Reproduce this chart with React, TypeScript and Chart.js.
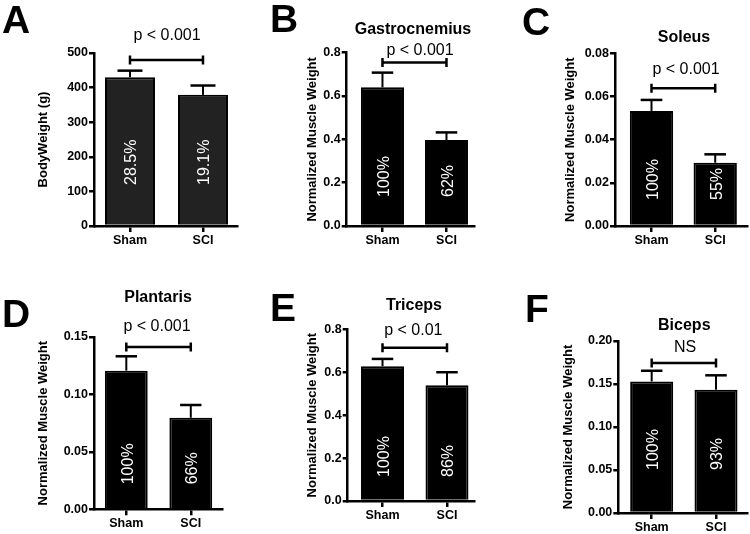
import React, { useEffect, useRef } from 'react';
import { Chart, registerables } from 'chart.js';
Chart.register(...registerables);

const FONT = '"Liberation Sans", Arial, Helvetica, sans-serif';

const categories = ['Sham', 'SCI'];

const bodyWeightMeans = [430, 379];
const bodyWeightSEM = [19, 27];
const bodyWeightPct = ['28.5%', '19.1%'];
const bodyWeightTicks = [0, 100, 200, 300, 400, 500];
const bodyWeightTickLabels = ['0', '100', '200', '300', '400', '500'];

const gastrocMeans = [0.64, 0.397];
const gastrocSEM = [0.068, 0.035];
const gastrocPct = ['100%', '62%'];
const gastrocTicks = [0, 0.2, 0.4, 0.6, 0.8];
const gastrocTickLabels = ['0.0', '0.2', '0.4', '0.6', '0.8'];

const soleusMeans = [0.0533, 0.0293];
const soleusSEM = [0.0051, 0.0039];
const soleusPct = ['100%', '55%'];
const soleusTicks = [0, 0.02, 0.04, 0.06, 0.08];
const soleusTickLabels = ['0.00', '0.02', '0.04', '0.06', '0.08'];

const plantarisMeans = [0.1207, 0.0797];
const plantarisSEM = [0.0125, 0.0111];
const plantarisPct = ['100%', '66%'];
const plantarisTicks = [0, 0.05, 0.1, 0.15];
const plantarisTickLabels = ['0.00', '0.05', '0.10', '0.15'];

const tricepsMeans = [0.628, 0.539];
const tricepsSEM = [0.034, 0.061];
const tricepsPct = ['100%', '86%'];
const tricepsTicks = [0, 0.2, 0.4, 0.6, 0.8];
const tricepsTickLabels = ['0.0', '0.2', '0.4', '0.6', '0.8'];

const bicepsMeans = [0.153, 0.1434];
const bicepsSEM = [0.0124, 0.0167];
const bicepsPct = ['100%', '93%'];
const bicepsTicks = [0, 0.05, 0.1, 0.15, 0.2];
const bicepsTickLabels = ['0.00', '0.05', '0.10', '0.15', '0.20'];

const sigLevels = [480, 0.755, 0.0638, 0.1413, 0.7145, 0.1744];
const sigTexts = ['p < 0.001', 'p < 0.001', 'p < 0.001', 'p < 0.001', 'p < 0.01', 'NS'];
const panelTitles = ['', 'Gastrocnemius', 'Soleus', 'Plantaris', 'Triceps', 'Biceps'];
const panelLetters = ['A', 'B', 'C', 'D', 'E', 'F'];
const yTitles = ['BodyWeight (g)', 'Normalized Muscle Weight', 'Normalized Muscle Weight',
  'Normalized Muscle Weight', 'Normalized Muscle Weight', 'Normalized Muscle Weight'];

type Panel = {
  idx: number;
  means: number[]; sem: number[]; pct: string[];
  ticks: number[]; tickLabels: string[];
  col: number; row: number;
  area: { l: number; t: number; r: number; b: number };
  xMin: number; xMax: number; barPct: number; barColor: string;
  letterPos: [number, number]; titlePos: [number, number]; sigTextPos: [number, number];
  yTitleX: number; pctOffset: number;
};

const PW = 250;
const PH = 267;

const panels: Panel[] = [
  { idx: 0, means: bodyWeightMeans, sem: bodyWeightSEM, pct: bodyWeightPct, ticks: bodyWeightTicks, tickLabels: bodyWeightTickLabels,
    col: 0, row: 0, area: { l: 94, t: 53, r: 237, b: 226 }, xMin: -0.493, xMax: 1.466, barPct: 0.685, barColor: '#222222',
    letterPos: [2, 33], titlePos: [0, 0], sigTextPos: [167, 36], yTitleX: 43, pctOffset: 41 },
  { idx: 1, means: gastrocMeans, sem: gastrocSEM, pct: gastrocPct, ticks: gastrocTicks, tickLabels: gastrocTickLabels,
    col: 1, row: 0, area: { l: 96.7, t: 52.7, r: 224, b: 226 }, xMin: -0.559, xMax: 1.43, barPct: 0.672, barColor: '#000000',
    letterPos: [20, 32], titlePos: [163, 30], sigTextPos: [170, 50.7], yTitleX: 62, pctOffset: 29 },
  { idx: 2, means: soleusMeans, sem: soleusSEM, pct: soleusPct, ticks: soleusTicks, tickLabels: soleusTickLabels,
    col: 2, row: 0, area: { l: 115, t: 53.3, r: 247, b: 226 }, xMin: -0.573, xMax: 1.499, barPct: 0.68, barColor: '#000000',
    letterPos: [22, 35], titlePos: [184, 37.7], sigTextPos: [186, 70], yTitleX: 70, pctOffset: 26 },
  { idx: 3, means: plantarisMeans, sem: plantarisSEM, pct: plantarisPct, ticks: plantarisTicks, tickLabels: plantarisTickLabels,
    col: 0, row: 1, area: { l: 94, t: 70, r: 222.7, b: 242.3 }, xMin: -0.501, xMax: 1.495, barPct: 0.664, barColor: '#000000',
    letterPos: [2, 60], titlePos: [158, 30.7], sigTextPos: [157, 60], yTitleX: 43, pctOffset: 25 },
  { idx: 4, means: tricepsMeans, sem: tricepsSEM, pct: tricepsPct, ticks: tricepsTicks, tickLabels: tricepsTickLabels,
    col: 1, row: 1, area: { l: 97.7, t: 62.3, r: 224, b: 234 }, xMin: -0.54, xMax: 1.419, barPct: 0.667, barColor: '#000000',
    letterPos: [20, 54], titlePos: [164, 39], sigTextPos: [163.3, 64], yTitleX: 62, pctOffset: 24 },
  { idx: 5, means: bicepsMeans, sem: bicepsSEM, pct: bicepsPct, ticks: bicepsTicks, tickLabels: bicepsTickLabels,
    col: 2, row: 1, area: { l: 118.3, t: 74, r: 247, b: 246 }, xMin: -0.519, xMax: 1.482, barPct: 0.669, barColor: '#000000',
    letterPos: [25, 55], titlePos: [184.3, 58.3], sigTextPos: [185, 81], yTitleX: 68, pctOffset: 43 },
];

const makeOverlay = (p: Panel) => ({
  id: 'overlay' + p.idx,
  afterDatasetsDraw(chart: any) {
    const ctx = chart.ctx as CanvasRenderingContext2D;
    const xs = chart.scales.x;
    const ys = chart.scales.y;
    const meta = chart.getDatasetMeta(0);
    ctx.save();
    ctx.strokeStyle = '#000';
    meta.data.forEach((bar: any, i: number) => {
      const cx = bar.x;
      const w = bar.width;
      const top = ys.getPixelForValue(p.means[i]);
      const et = ys.getPixelForValue(p.means[i] + p.sem[i]);
      ctx.lineWidth = 2;
      ctx.beginPath();
      ctx.moveTo(cx, top);
      ctx.lineTo(cx, et);
      ctx.stroke();
      ctx.lineWidth = 2.5;
      ctx.beginPath();
      ctx.moveTo(cx - w / 4, et);
      ctx.lineTo(cx + w / 4, et);
      ctx.stroke();
      ctx.save();
      ctx.translate(cx + 2, chart.chartArea.bottom - p.pctOffset);
      ctx.rotate(-Math.PI / 2);
      ctx.fillStyle = '#fff';
      ctx.font = '16px ' + FONT;
      ctx.textAlign = 'left';
      ctx.textBaseline = 'middle';
      ctx.fillText(p.pct[i], 0, 0);
      ctx.restore();
    });
    // significance bracket
    const by = ys.getPixelForValue(sigLevels[p.idx]);
    const x0 = xs.getPixelForValue(0);
    const x1 = xs.getPixelForValue(1);
    ctx.lineWidth = 2.5;
    ctx.beginPath();
    ctx.moveTo(x0, by);
    ctx.lineTo(x1, by);
    ctx.moveTo(x0, by - 4.5);
    ctx.lineTo(x0, by + 4.5);
    ctx.moveTo(x1, by - 4.5);
    ctx.lineTo(x1, by + 4.5);
    ctx.stroke();
    ctx.fillStyle = '#000';
    ctx.font = '16px ' + FONT;
    ctx.textAlign = 'center';
    ctx.textBaseline = 'middle';
    ctx.fillText(sigTexts[p.idx], p.sigTextPos[0], p.sigTextPos[1]);
    ctx.restore();
  },
  afterDraw(chart: any) {
    const ctx = chart.ctx as CanvasRenderingContext2D;
    ctx.save();
    ctx.fillStyle = '#000';
    ctx.font = 'bold 39px ' + FONT;
    ctx.textAlign = 'left';
    ctx.textBaseline = 'alphabetic';
    ctx.fillText(panelLetters[p.idx], p.letterPos[0], p.letterPos[1]);
    if (panelTitles[p.idx]) {
      ctx.font = 'bold 16px ' + FONT;
      ctx.textAlign = 'center';
      ctx.textBaseline = 'middle';
      ctx.fillText(panelTitles[p.idx], p.titlePos[0], p.titlePos[1]);
    }
    ctx.restore();
  },
});

function PanelChart({ p }: { p: Panel }) {
  const ref = useRef<HTMLCanvasElement>(null);
  useEffect(() => {
    if (!ref.current) return;
    const X_H = 21;
    const chart = new Chart(ref.current, {
      type: 'bar',
      data: {
        datasets: [{
          data: p.means.map((v, i) => ({ x: i, y: v })),
          backgroundColor: p.barColor,
          borderColor: '#000',
          borderWidth: 2,
          barPercentage: p.barPct,
          categoryPercentage: 1,
        }],
      },
      options: {
        animation: false,
        responsive: false,
        devicePixelRatio: 1,
        layout: { padding: { left: 0, top: p.area.t, right: PW - p.area.r, bottom: Math.max(0, PH - p.area.b - X_H) } },
        plugins: { legend: { display: false }, tooltip: { enabled: false }, title: { display: false } },
        scales: {
          x: {
            type: 'linear',
            offset: false,
            min: p.xMin,
            max: p.xMax,
            afterFit: (s: any) => { s.height = X_H; },
            afterBuildTicks: (s: any) => { s.ticks = categories.map((_, i) => ({ value: i })); },
            ticks: {
              callback: (v: any) => categories[Math.round(Number(v))] ?? '',
              color: '#000',
              font: { family: FONT, size: 12.5, weight: 'bold' },
              padding: 1,
              maxRotation: 0,
              autoSkip: false,
            },
            grid: { offset: false, drawOnChartArea: false, drawTicks: true, tickLength: 6, color: '#000', lineWidth: 2.5 },
            border: { display: true, color: '#000', width: 2.5 },
          },
          y: {
            type: 'linear',
            min: p.ticks[0],
            max: p.ticks[p.ticks.length - 1],
            afterFit: (s: any) => { s.width = p.area.l; },
            afterBuildTicks: (s: any) => { s.ticks = p.ticks.map((v) => ({ value: v })); },
            ticks: {
              callback: (_v: any, i: number) => p.tickLabels[i],
              color: '#000',
              font: { family: FONT, size: 12.5, weight: 'bold' },
              padding: 1,
              autoSkip: false,
            },
            grid: { drawOnChartArea: false, drawTicks: true, tickLength: 5, color: '#000', lineWidth: 2.5 },
            border: { display: true, color: '#000', width: 2.5 },
            title: {
              display: true,
              text: yTitles[p.idx],
              color: '#000',
              font: { family: FONT, size: 13, weight: 'bold' },
              padding: { top: p.yTitleX - 7.8, bottom: 0 },
            },
          },
        },
      },
      plugins: [makeOverlay(p)],
    } as any);
    return () => chart.destroy();
  }, [p]);
  return (
    <div style={{ position: 'absolute', left: p.col * PW, top: p.row * PH, width: PW, height: PH }}>
      <canvas ref={ref} width={PW} height={PH} style={{ width: PW, height: PH, display: 'block' }} />
    </div>
  );
}

export default function App() {
  return (
    <div style={{ position: 'absolute', left: 0, top: 0, width: 750, height: 534, background: '#fff', overflow: 'hidden' }}>
      {panels.map((p) => <PanelChart key={p.idx} p={p} />)}
    </div>
  );
}
